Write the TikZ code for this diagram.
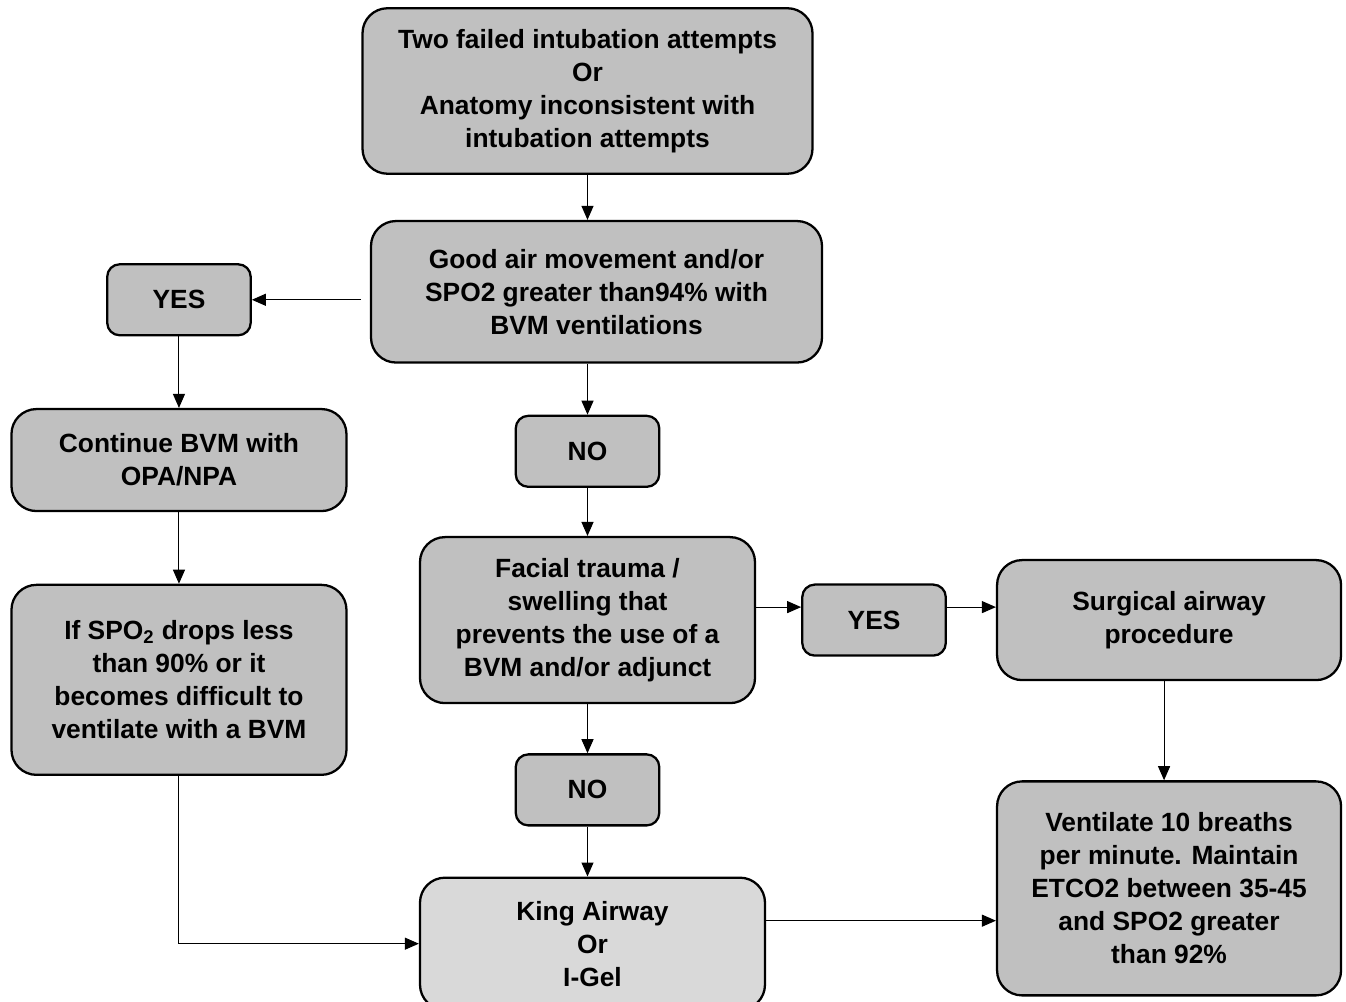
\documentclass[tikz,border=0pt]{standalone}
\usepackage{fontspec}
\setmainfont{Liberation Sans}
\usetikzlibrary{arrows.meta, positioning}
\definecolor{boxgray}{HTML}{C0C0C0}
\definecolor{kinggray}{HTML}{D9D9D9}

\begin{document}
\begin{tikzpicture}[
  node distance=1cm and 1cm,
  box/.style={draw, line width=1.3pt, rounded corners=0.5cm, fill=boxgray, font=\bfseries\fontsize{15}{18.8}\selectfont, align=center, inner sep=2pt},
  tag/.style={box, rounded corners=0.25cm, minimum width=2.87cm, minimum height=1.42cm},
  arrow/.style={-{Triangle[length=0.28cm, width=0.24cm]}, line width=0.6pt}]
  \useasboundingbox (0,0) rectangle (26.92,-20.04);
  \node[box, minimum width=9.0cm, minimum height=3.31cm] (fail) at (11.75,-1.82) {Two failed intubation attempts\\Or\\Anatomy inconsistent with\\intubation attempts};
  \node[box, below=0.9cm of fail, xshift=0.18cm, minimum width=9.02cm, minimum height=2.83cm] (air) {Good air movement and/or\\SPO2 greater than94\% with\\BVM ventilations};
  \node[tag, left=2.36cm of air, yshift=-0.16cm] (yesA) {YES};
  \node[box, below=1.43cm of yesA, minimum width=6.7cm, minimum height=2.04cm] (bvm) {Continue BVM with\\OPA/NPA};
  \node[box, below=1.43cm of bvm, minimum width=6.7cm, minimum height=3.8cm] (drop) {If SPO\textsubscript{2} drops less\\than 90\% or it\\becomes difficult to\\ventilate with a BVM};
  \node[tag, below=1.02cm of air, xshift=-0.18cm] (noA) {NO};
  \node[box, below=0.96cm of noA, minimum width=6.7cm, minimum height=3.32cm] (face) {Facial trauma /\\swelling that\\prevents the use of a\\BVM and/or adjunct};
  \node[tag, right=0.9cm of face] (yesB) {YES};
  \node[box, right=0.98cm of yesB, minimum width=6.88cm, minimum height=2.4cm] (surg) {Surgical airway\\procedure};
  \node[tag, below=0.98cm of face] (noB) {NO};
  \node[box, fill=kinggray, below=1.0cm of noB, xshift=0.1cm, minimum width=6.9cm, minimum height=2.64cm] (king) {King Airway\\Or\\I-Gel};
  \node[box, below=1.98cm of surg, minimum width=6.88cm, minimum height=4.28cm] (vent) {Ventilate 10 breaths\\per minute. Maintain\\ETCO2 between 35-45\\and SPO2 greater\\than 92\%};
  % connectors
  \draw[arrow] (fail) -- (fail |- air.north);
  \draw[arrow] ([xshift=-0.18cm]yesA.east -| air.west) -- (yesA.east);
  \draw[arrow] (yesA.south) -- (yesA.south |- bvm.north);
  \draw[arrow] (bvm.south) -- (bvm.south |- drop.north);
  \draw[arrow] (drop.south) |- (king.west);
  \draw[arrow] (noA.north |- air.south) -- (noA.north);
  \draw[arrow] (noA.south) -- (noA.south |- face.north);
  \draw[arrow] (face.south) -- (face.south |- noB.north);
  \draw[arrow] (noB.south) -- (noB.south |- king.north);
  \draw[arrow] ([yshift=0.26cm]face.east) -- ([yshift=0.26cm]yesB.west);
  \draw[arrow] ([yshift=0.26cm]yesB.east) -- ([yshift=0.26cm]surg.west);
  \draw[arrow] ([xshift=-0.1cm]surg.south) -- ([xshift=-0.1cm]vent.north);
  \coordinate (kv) at ([yshift=0.46cm]king.east);
  \draw[arrow] (kv) -- (kv -| vent.west);
\end{tikzpicture}
\end{document}
